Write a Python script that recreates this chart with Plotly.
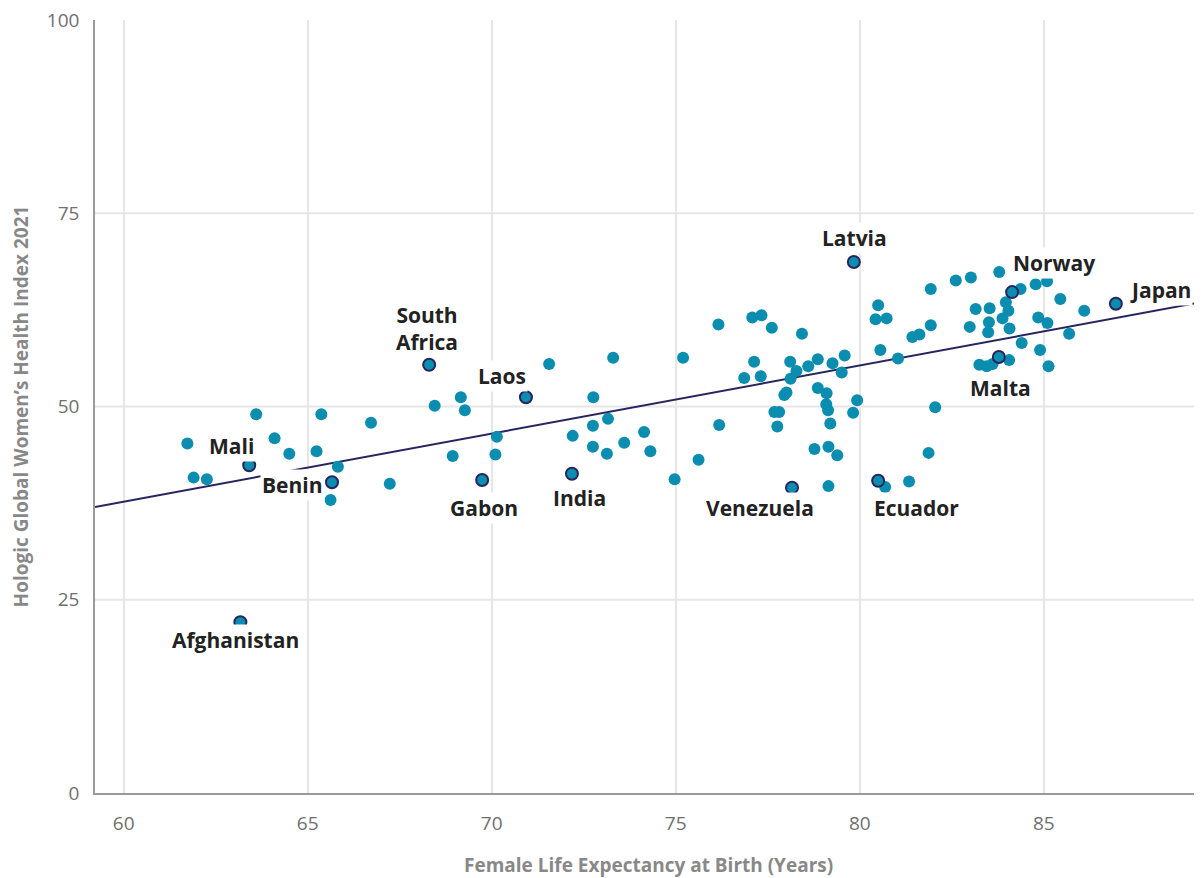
import plotly.graph_objects as go

# Highlighted (labelled) countries
label_names = ["Afghanistan", "Mali", "Benin", "South Africa", "Gabon", "Laos", "India",
               "Venezuela", "Latvia", "Ecuador", "Malta", "Norway", "Japan"]
label_x = [63.17, 63.41, 65.66, 68.30, 69.74, 70.93, 72.18, 78.16, 79.84, 80.50, 83.78, 84.14, 86.96]
label_y = [22.1, 42.4, 40.2, 55.4, 40.5, 51.2, 41.3, 39.5, 68.7, 40.4, 56.4, 64.8, 63.3]
label_text = ["Afghanistan", "Mali", "Benin", "South<br>Africa", "Gabon", "Laos", "India",
              "Venezuela", "Latvia", "Ecuador", "Malta", "Norway", "Japan"]
# label offsets in pixels (style)
label_dx = [-5, -18, -40, -2, 2, -24, 8, -32, 1, 38, 2, 42, 45]
label_dy = [-18, 19, -3, 36, -28, 21, -24, -20, 24, -27, -31, 29, 14]

# Other countries
other_x = [63.6, 65.37, 66.72, 61.73, 64.1, 64.5, 65.24, 65.82, 61.9, 62.26, 67.23, 65.62,
           71.56, 73.3, 75.2, 69.16, 68.45, 69.27, 72.76, 73.16, 72.75, 70.14, 72.2, 74.14,
           72.75, 73.6, 73.13, 74.31, 68.94, 70.1, 75.62, 74.97,
           81.93, 80.5, 80.43, 80.73, 81.93, 81.43, 81.62, 80.56, 81.04, 76.16, 77.08, 77.33,
           77.61, 78.43, 77.13, 78.11, 78.86, 79.26, 79.59, 78.6, 78.28, 79.51, 76.86, 77.31,
           78.12, 77.95, 78.01, 78.86, 79.1, 79.93, 79.09, 79.14, 79.82, 77.68, 77.81, 79.2,
           77.76, 76.18, 82.05, 78.77, 79.15, 79.39, 81.87, 79.15, 80.69, 81.34,
           82.61, 83.02, 83.79, 84.37, 84.78, 85.09, 85.45, 83.97, 83.15, 83.53, 84.04, 83.88,
           84.85, 85.1, 86.1, 82.99, 83.51, 83.49, 84.07, 85.69, 84.4, 84.9, 84.06, 83.25,
           83.45, 83.61, 85.13]
other_y = [49.0, 49.0, 47.9, 45.2, 45.9, 43.9, 44.2, 42.2, 40.8, 40.6, 40.0, 37.9,
           55.5, 56.3, 56.3, 51.2, 50.1, 49.5, 51.2, 48.4, 47.5, 46.1, 46.2, 46.7,
           44.8, 45.3, 43.9, 44.2, 43.6, 43.8, 43.1, 40.6,
           65.2, 63.1, 61.3, 61.4, 60.5, 59.0, 59.3, 57.3, 56.2, 60.6, 61.5, 61.8,
           60.2, 59.4, 55.8, 55.8, 56.1, 55.6, 56.6, 55.2, 54.6, 54.4, 53.7, 53.9,
           53.6, 51.5, 51.8, 52.4, 51.7, 50.8, 50.3, 49.5, 49.2, 49.3, 49.3, 47.8,
           47.4, 47.6, 49.9, 44.5, 44.8, 43.7, 44.0, 39.7, 39.6, 40.3,
           66.3, 66.7, 67.4, 65.2, 65.8, 66.2, 63.9, 63.5, 62.6, 62.7, 62.4, 61.4,
           61.5, 60.8, 62.4, 60.3, 60.9, 59.6, 60.1, 59.4, 58.2, 57.3, 56.0, 55.4,
           55.2, 55.5, 55.2]

# Trend line
trend_slope = 0.881
trend_intercept = -15.17

x_range = [59.22, 89.3]
y_range = [0, 100]
x_ticks = [60, 65, 70, 75, 80, 85]
y_ticks = [0, 25, 50, 75, 100]
y_grid = [25, 50, 75]

x_title = "Female Life Expectancy at Birth (Years)"
y_title = "Hologic Global Women’s Health Index 2021"

TEAL = "#0b8db0"
NAVY = "#27255f"
FONT = "'Open Sans', 'Noto Sans', sans-serif"

fig = go.Figure()

trend_x = x_range
trend_y = [trend_slope * v + trend_intercept for v in trend_x]
fig.add_trace(go.Scatter(x=trend_x, y=trend_y, mode="lines",
                         line=dict(color=NAVY, width=2), hoverinfo="skip", showlegend=False))

fig.add_trace(go.Scatter(x=other_x, y=other_y, mode="markers",
                         marker=dict(color=TEAL, size=12, line=dict(width=0)),
                         showlegend=False))
fig.add_trace(go.Scatter(x=label_x, y=label_y, mode="markers", text=label_names,
                         marker=dict(color=TEAL, size=12, line=dict(color=NAVY, width=2)),
                         showlegend=False))

for xv, yv, t, dx, dy in zip(label_x, label_y, label_text, label_dx, label_dy):
    fig.add_annotation(x=xv, y=yv, text="<b>" + t + "</b>", showarrow=False,
                       xshift=dx, yshift=dy, bgcolor="white",
                       font=dict(family=FONT, size=21, color="#222222"))

# x-axis title
fig.add_annotation(x=0.5, y=0, xref="paper", yref="paper", text="<b>" + x_title + "</b>",
                   showarrow=False, yanchor="middle", yshift=-72,
                   font=dict(family=FONT, size=19, color="#888888"))

for g in y_grid:
    fig.add_shape(type="line", xref="paper", x0=0, x1=1, yref="y", y0=g, y1=g,
                  line=dict(color="#e6e6e6", width=2), layer="below")

fig.update_layout(
    width=1194, height=878,
    margin=dict(l=87, r=0, t=12, b=93),
    plot_bgcolor="white", paper_bgcolor="white",
    font=dict(family=FONT, size=19, color="#6f6f6f"),
    xaxis=dict(range=x_range, tickvals=x_ticks, showgrid=True, gridcolor="#e6e6e6", gridwidth=2,
               zeroline=False, showline=True, linecolor="#9a9a9a", linewidth=1.5,
               ticks="", ticklen=0, ticklabelstandoff=12, ticklabeloverflow="allow",
               automargin=False,
               tickfont=dict(size=19, color="#6f6f6f")),
    yaxis=dict(range=y_range, tickvals=y_ticks, showgrid=False, zeroline=False,
               showline=True, linecolor="#9a9a9a", linewidth=1.5, ticks="",
               ticklabelstandoff=10, ticklabeloverflow="allow", automargin=False,
               title=dict(text="<b>" + y_title + "</b>",
                          font=dict(size=19, color="#888888"), standoff=14),
               tickfont=dict(size=19, color="#6f6f6f")),
)

fig.write_html("out.html")
